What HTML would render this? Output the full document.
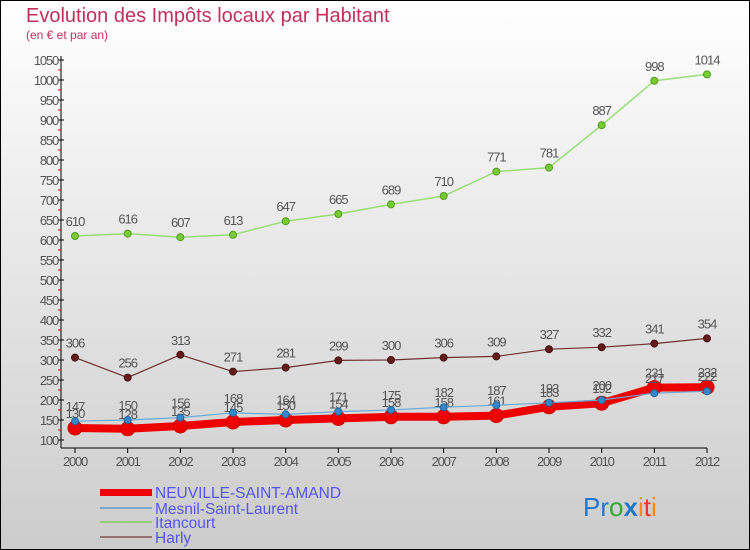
<!DOCTYPE html>
<html><head><meta charset="utf-8"><style>
body{margin:0}
#c{width:750px;height:550px;position:relative;overflow:hidden;font-family:"Liberation Sans",sans-serif}
</style></head><body>
<div id="c">
<svg id="s" width="750" height="550" xmlns="http://www.w3.org/2000/svg">
<defs><linearGradient id="bg" x1="0" y1="0" x2="0" y2="1"><stop offset="0" stop-color="#ffffff"/><stop offset="1" stop-color="#cccccc"/></linearGradient></defs>
<rect x="0.5" y="0.5" width="749" height="549" fill="url(#bg)" stroke="#000"/>
<text x="26" y="22" font-size="20" fill="#c0305a">Evolution des Impôts locaux par Habitant</text>
<text x="26" y="39" font-size="12" fill="#c0305a">(en € et par an)</text>
<g id="axes"></g><g id="series"></g>
<g>
<rect x="100" y="489" width="52" height="7" fill="#ee0000"/>
<text x="155" y="498" font-size="15.5" fill="#5555ee">NEUVILLE-SAINT-AMAND</text>
<rect x="100" y="507" width="52" height="2" fill="#7aaad0"/>
<text x="155" y="514" font-size="15.5" fill="#5555ee">Mesnil-Saint-Laurent</text>
<rect x="100" y="521" width="52" height="2" fill="#99cc77"/>
<text x="155" y="528" font-size="15.5" fill="#5555ee">Itancourt</text>
<rect x="100" y="536" width="52" height="2" fill="#997070"/>
<text x="155" y="543" font-size="15.5" fill="#5555ee">Harly</text>
</g>
<text x="583" y="516" font-size="26"><tspan fill="#2277cc">Pr</tspan><tspan fill="#33aa33">o</tspan><tspan fill="#2277cc" font-weight="bold">x</tspan><tspan fill="#ff8800">i</tspan><tspan fill="#ee3322">t</tspan><tspan fill="#ff8800">i</tspan></text>
</svg></div>
<script>
const years=[2000,2001,2002,2003,2004,2005,2006,2007,2008,2009,2010,2011,2012];
const neuville=[130,128,135,145,150,154,158,158,161,183,192,231,232];
const mesnil=[147,150,156,168,164,171,175,182,187,193,200,217,222];
const itancourt=[610,616,607,613,647,665,689,710,771,781,887,998,1014];
const harly=[306,256,313,271,281,299,300,306,309,327,332,341,354];
const yTicks=[100,150,200,250,300,350,400,450,500,550,600,650,700,750,800,850,900,950,1000,1050];
const NS="http://www.w3.org/2000/svg";
const X=i=>75+i*(707-75)/(years.length-1);
const Y=v=>60+(1050-v)*0.4;
function mk(t,a,p){const e=document.createElementNS(NS,t);for(const k in a)e.setAttribute(k,a[k]);p.appendChild(e);return e;}
const ax=document.getElementById('axes');
let l=mk('line',{x1:61,y1:56,x2:61,y2:448,stroke:'#000'},ax);


l=mk('line',{x1:61,y1:448,x2:707,y2:448,stroke:'#000'},ax);


yTicks.forEach(v=>{const y=Y(v);
mk('line',{x1:58,y1:y,x2:64,y2:y,stroke:'#000'},ax);
if(v<1050)mk('line',{x1:58,y1:y-10,x2:61,y2:y-10,stroke:'#d00'},ax);
const t=mk('text',{x:58,y:y+5,'font-size':13,'text-anchor':'end',fill:'#555','letter-spacing':'-1.2'},ax);t.textContent=v;

});
years.forEach((yr,i)=>{const x=X(i);mk('line',{x1:x,y1:448,x2:x,y2:453,stroke:'#000'},ax);
const t=mk('text',{x:x,y:466,'font-size':13,'text-anchor':'middle',fill:'#555','letter-spacing':'-1.2'},ax);t.textContent=yr;

});
const sg=document.getElementById('series');
function series(name,vals,col,w,r,dot,dstroke){
const g=mk('g',{},sg);


mk('polyline',{points:vals.map((v,i)=>X(i)+','+Y(v)).join(' '),fill:'none',stroke:col,'stroke-width':w,'stroke-linejoin':'round'},g);
vals.forEach((v,i)=>{const c=mk('circle',{cx:X(i),cy:Y(v),r:r,fill:dot,stroke:dstroke,'stroke-width':1},g);


const t=mk('text',{x:X(i),y:Y(v)-10,'font-size':13,'text-anchor':'middle',fill:'#555','letter-spacing':'-1'},g);t.textContent=v;

});}
series('itancourt',itancourt,'#99dd77',1.5,3.5,'#77cc33','#559922');
series('harly',harly,'#703030',1.2,3.5,'#661a1a','#441010');
series('neuville',neuville,'#ee0000',8,7,'#ee0000','#cc0000');
series('mesnil',mesnil,'#66aadd',1.2,3.5,'#3388cc','#226699');
</script>
</body></html>
